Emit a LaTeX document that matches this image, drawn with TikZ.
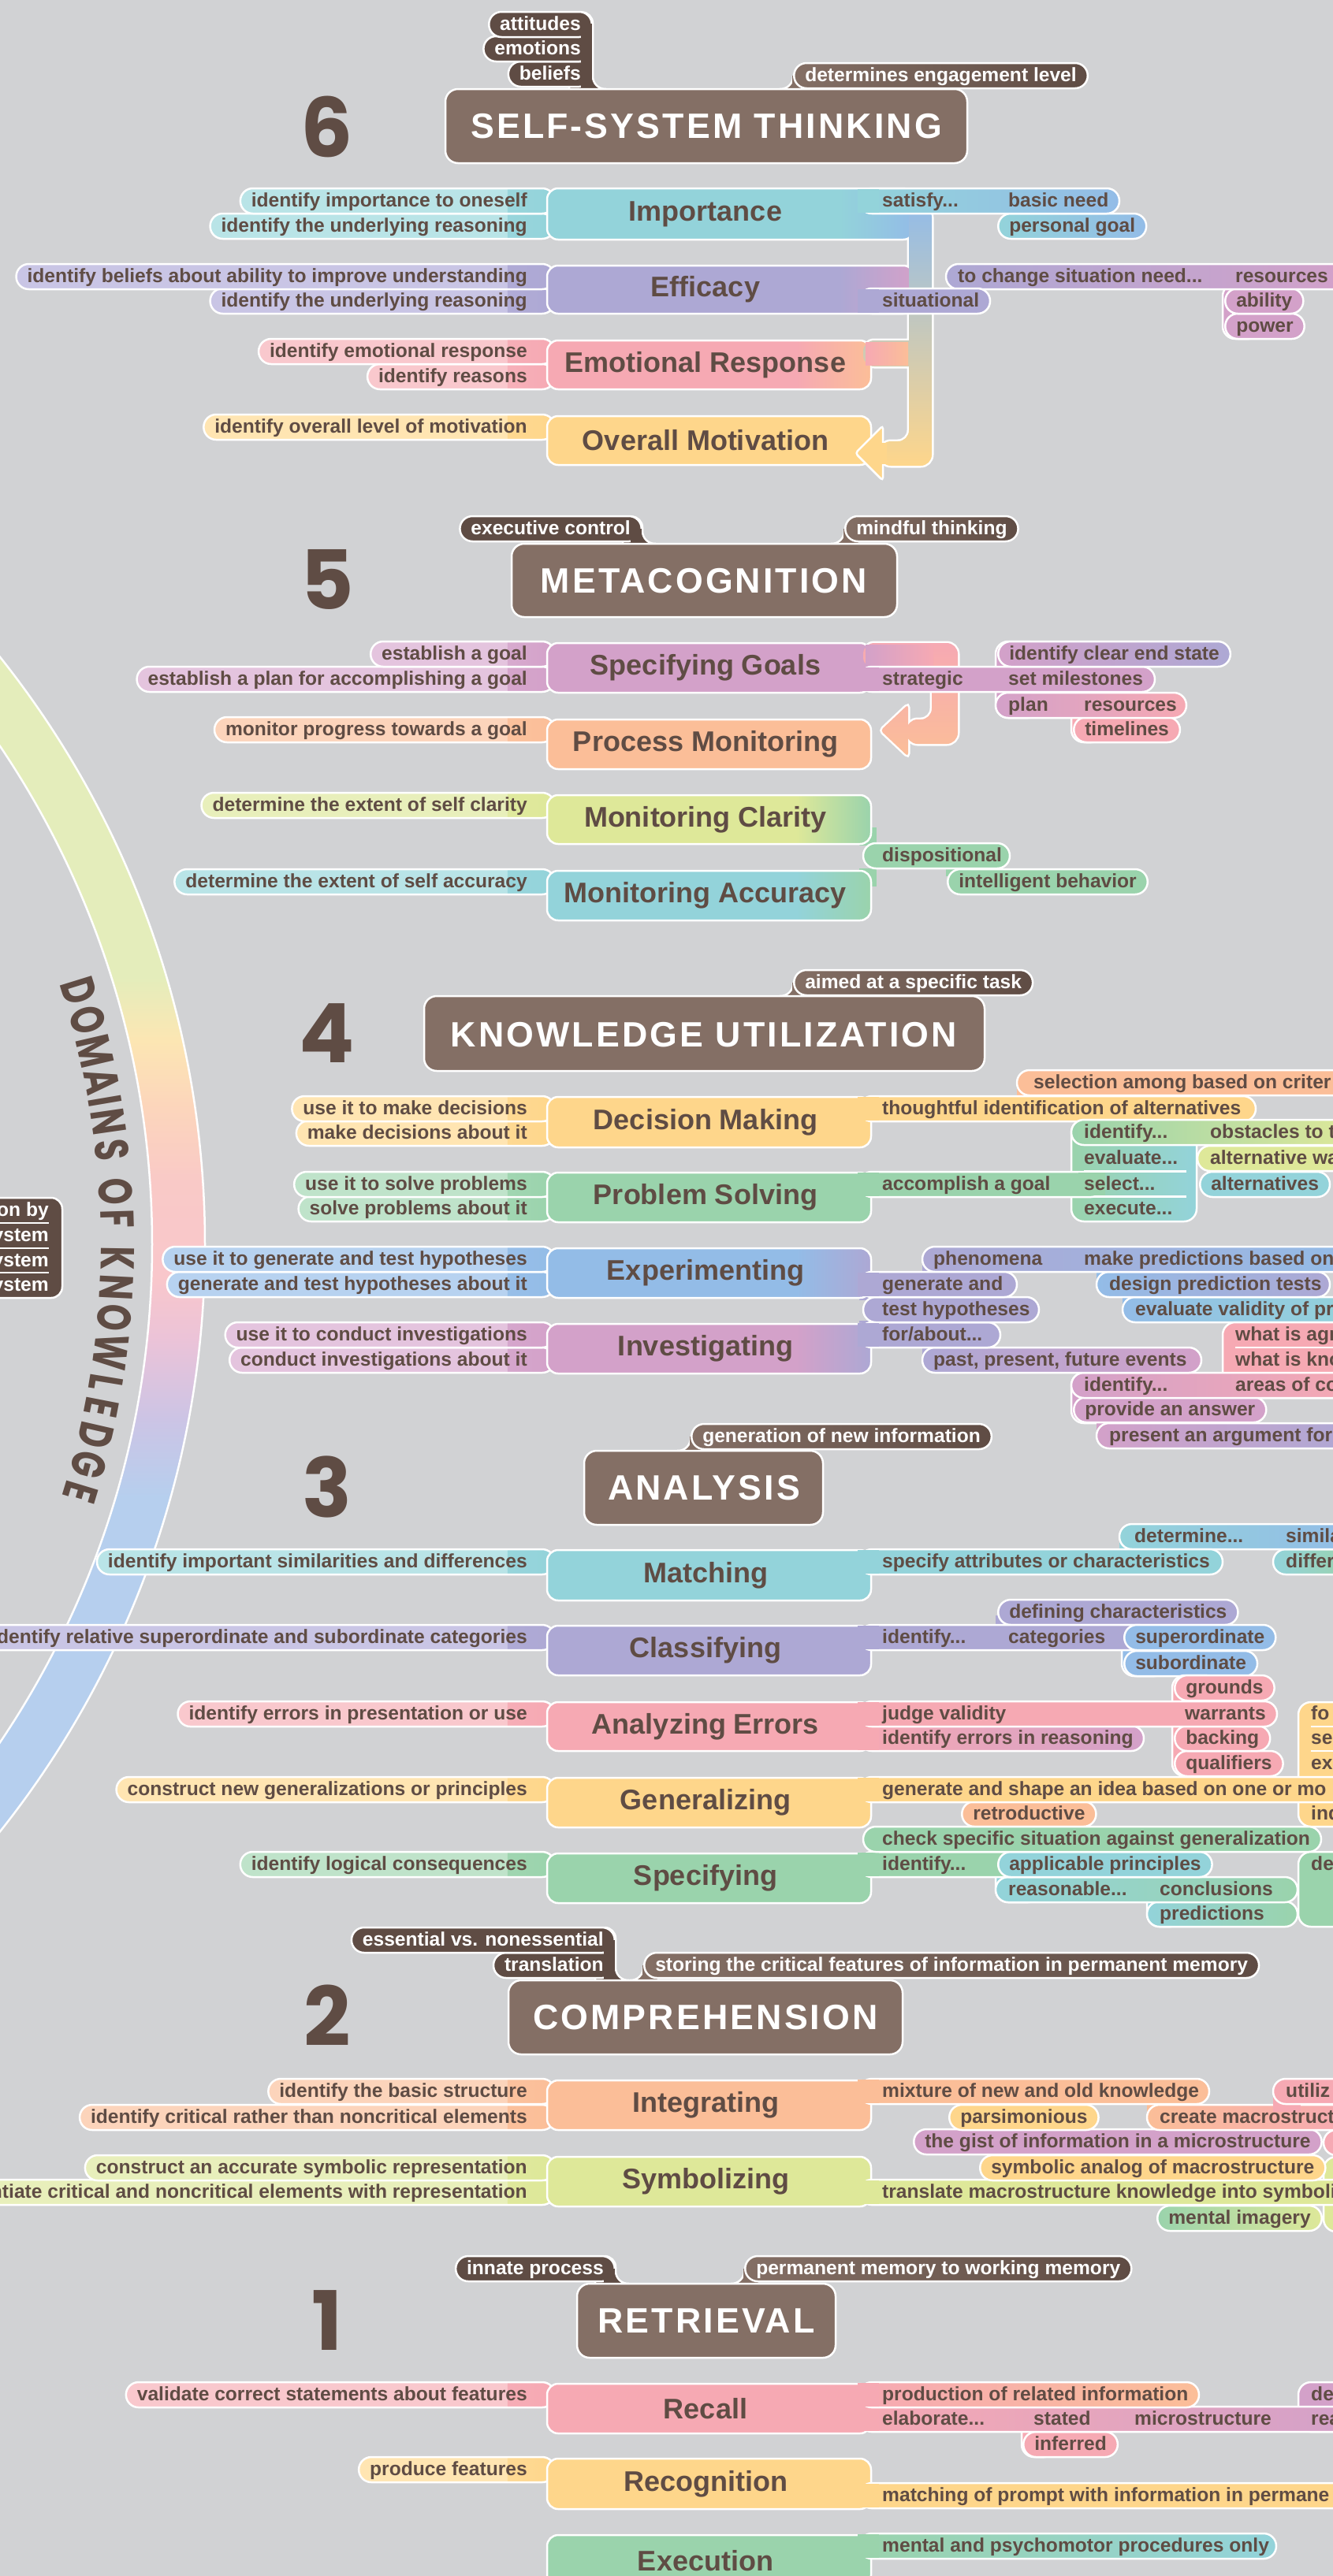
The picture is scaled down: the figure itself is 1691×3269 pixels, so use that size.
\documentclass[tikz,border=0pt]{standalone}
\usepackage{fontspec}
\usepackage{graphicx}
\setmainfont{Liberation Sans}
\newfontfamily\hdrfam{Liberation Sans}[LetterSpace=7]
\newfontfamily\popfam{Poppins}
\usetikzlibrary{shapes.misc}
\definecolor{bgc}{HTML}{D1D2D4}
\definecolor{hdr}{HTML}{846F65}
\definecolor{tag}{HTML}{5F4C44}
\definecolor{txt}{HTML}{5F4C44}
\definecolor{ccy}{HTML}{93D3DA}\definecolor{ccyL}{HTML}{B9E4E7}
\definecolor{cpu}{HTML}{ADA8D4}\definecolor{cpuL}{HTML}{C9C5E5}
\definecolor{cpk}{HTML}{F6A9B3}\definecolor{cpkL}{HTML}{F9C8CD}
\definecolor{cye}{HTML}{FED68B}\definecolor{cyeL}{HTML}{FFE5B2}
\definecolor{cor}{HTML}{D3A1C9}\definecolor{corL}{HTML}{E4C4DE}
\definecolor{cpe}{HTML}{FBBE98}\definecolor{cpeL}{HTML}{FCD4BB}
\definecolor{cli}{HTML}{DEE899}\definecolor{cliL}{HTML}{E8EFBB}
\definecolor{cgr}{HTML}{9AD3AC}\definecolor{cgrL}{HTML}{BFE3CA}
\definecolor{cbl}{HTML}{93BCE7}\definecolor{cblL}{HTML}{B7D2F0}
\definecolor{cpkpe}{HTML}{F2ADB3}
\definecolor{arca}{HTML}{E4EDBB}\definecolor{arcb}{HTML}{FCE6B3}
\definecolor{arcc}{HTML}{FCD6BB}\definecolor{arcd}{HTML}{F9C9C7}
\definecolor{arce}{HTML}{F9C7CB}\definecolor{arcf}{HTML}{EBC3D8}
\definecolor{arcg}{HTML}{CCC4E5}\definecolor{arch}{HTML}{B6CFEE}
\newcommand\lblfont{\bfseries\fontsize{24.6}{26}\selectfont}
\newcommand\ttlfont{\bfseries\fontsize{36}{38}\selectfont}
\newcommand\hdrfont{\hdrfam\bfseries\fontsize{44.7}{46}\selectfont}
\newcommand\digfont{\popfam\bfseries\fontsize{104}{106}\selectfont}
\newcommand\domfont{\popfam\bfseries\fontsize{60}{62}\selectfont}
\newcounter{nn}
\newcommand\nx{\stepcounter{nn}}
\tikzset{
 wb/.style={draw=white, line width=2.5pt},
 pill/.style={wb, rectangle, rounded corners=15.9pt, minimum height=32pt, inner xsep=14pt, inner ysep=0pt, text height=20pt, text depth=5pt, font=\lblfont, text=txt},
 lbl/.style={font=\lblfont, text=txt, inner sep=0pt, anchor=base west},
 mbox/.style={wb, rounded corners=14pt},
 ttl/.style={font=\ttlfont, text=txt},
 hbox/.style={wb, fill=hdr, rounded corners=16pt},
 htxt/.style={font=\hdrfont, text=white},
 dig/.style={font=\digfont, text=txt},
 tagp/.style={pill, fill=tag, text=white},
 tagr/.style={pill, left color=hdr, right color=tag, text=white, anchor=west},
}
\newcommand\zLP[4]{\nx\node[pill, fill=#2, anchor=east, path picture={\shade[draw=none, sharp corners, left color=#2, right color=#3] ([xshift=-60pt]path picture bounding box.south east) rectangle (path picture bounding box.north east);}] (n\arabic{nn}) at (705,#1) {#4\hspace*{21pt}};}
\newcommand\zRP[4]{\nx\node[pill, #3, anchor=west] (n\arabic{nn}) at ({#1-14},#2) {#4};}
\newcommand\zBD[4]{\draw[wb, rounded corners=15.9pt, #4] (#1,{#3-16}) rectangle (#2,{#3+16});}
\newcommand\zTX[3]{\nx\node[lbl] (n\arabic{nn}) at (#1,{#2+7.5}) {#3};}
\newcommand\zRB[5]{\zBD{1090}{#1}{#2}{#3}\fill[#4] (1088,{#2-14.7}) rectangle (1115,{#2+14.7});\zTX{1119}{#2}{#5}}
\newcommand\zMB[6]{\fill[#4, rounded corners=14pt] (694,#2) rectangle (#1,#3);
 \begin{scope}\clip[rounded corners=14pt] (694,#2) rectangle (#1,#3);
 \shade[draw=none, left color=#4, right color=#5] ({#1-95},#2) rectangle (#1,#3);\end{scope}
 \draw[mbox] (694,#2) rectangle (#1,#3);
 \nx\node[ttl] (n\arabic{nn}) at (895,{(#2+#3)/2}) {#6};}
\newcommand\zGB[5]{\draw[wb, rounded corners=15.9pt, #5] (#1,#3) rectangle (#2,#4);}
\newcommand\zfilR[3]{\begin{scope}\clip ({#1-1},{#2-17}) rectangle ({#1+17},{#2+1});
 \fill[#3] ({#1-1},{#2-17}) rectangle ({#1+17},{#2+1});
 \draw[wb, fill=bgc] ({#1+16},{#2-16}) circle[radius=16];\end{scope}}
\newcommand\zfilL[3]{\begin{scope}\clip ({#1-17},{#2-17}) rectangle ({#1+1},{#2+1});
 \fill[hdr] ({#1-17},{#2-17}) rectangle ({#1+1},{#2+1});
 \draw[wb, fill=bgc] ({#1-16},{#2-16}) circle[radius=16];\end{scope}
 \fill[hdr] ({#1-1},#3) rectangle ({#1+18},{#2+1});}
\begin{document}
\begin{tikzpicture}[x=1pt,y=-1pt]
\useasboundingbox (0,0) rectangle (1691,3269);
\clip (0,0) rectangle (1691,3269);
\fill[bgc] (0,0) rectangle (1691,3269);
% ---------- arc
\begin{scope}
\clip (-938,1579) circle[radius=1198];
\fill[arca] (-20,600) rectangle (320,1241);
\shade[top color=arca,bottom color=arcb] (-20,1240) rectangle (320,1321);
\shade[top color=arcb,bottom color=arcc] (-20,1320) rectangle (320,1401);
\shade[top color=arcc,bottom color=arcd] (-20,1400) rectangle (320,1501);
\shade[top color=arcd,bottom color=arce] (-20,1500) rectangle (320,1621);
\shade[top color=arce,bottom color=arcf] (-20,1620) rectangle (320,1701);
\shade[top color=arcf,bottom color=arcg] (-20,1700) rectangle (320,1801);
\shade[top color=arcg,bottom color=arch] (-20,1800) rectangle (320,1901);
\fill[arch] (-20,1900) rectangle (320,2600);
\end{scope}
\fill[bgc] (-938,1579) circle[radius=1131];
\draw[white, line width=2.5pt] (-938,1579) circle[radius=1198] (-938,1579) circle[radius=1131];
\foreach \ch/\th [count=\k] in {D/17.2,O/15.2,M/13.05,A/10.95,I/9.6,N/8.2,S/6.3,O/3.55,F/1.7,K/-0.95,N/-2.9,O/-4.9,W/-7.2,L/-9.3,E/-11.0,D/-12.9,G/-14.9,E/-16.85}{
 \node[font=\domfont, text=txt, rotate=\th-90, inner sep=0pt] (dk\k) at ({-938+1087*cos(\th)},{1579-1087*sin(\th)}) {\scalebox{0.72}[1]{\ch}};
}
% left box
\draw[wb, fill=tag, rounded corners=14pt] (-30,1520) rectangle (79,1647);
\draw[white, line width=2.5pt] (-30,1552) -- (62,1552) (-30,1584) -- (62,1584) (-30,1615) -- (62,1615);
\node[font=\lblfont, text=white, anchor=base east, inner sep=0pt] (lb1) at (62,1543.5) {on by};
\node[font=\lblfont, text=white, anchor=base east, inner sep=0pt] (lb2) at (62,1575.5) {ystem};
\node[font=\lblfont, text=white, anchor=base east, inner sep=0pt] (lb3) at (62,1607.5) {ystem};
\node[font=\lblfont, text=white, anchor=base east, inner sep=0pt] (lb4) at (62,1638.5) {ystem};
% ================= 6
\node[dig] (d6) at (415,161) {6};
\draw[wb, fill=tag, rounded corners=14pt] (722,15.5) rectangle (752,128);
\zfilR{752}{113}{tag}
\nx\node[tagp, anchor=east] (n\arabic{nn}) at (752,94) {beliefs};
\nx\node[tagp, anchor=east] (n\arabic{nn}) at (752,62) {emotions};
\nx\node[tagp, anchor=east] (n\arabic{nn}) at (752,31) {attitudes};
\fill[tag] (737,30) rectangle (750.7,126);
\zfilL{1006}{113}{96}
\nx\node[tagr] (n\arabic{nn}) at (1006,96) {determines engagement level};
\draw[hbox] (565,113) rectangle (1227,207);
\node[htxt] (h6) at (896,160) {SELF-SYSTEM THINKING};
\zLP{287}{ccyL}{ccy}{identify the underlying reasoning}
\zLP{255}{ccyL}{ccy}{identify importance to oneself}
\zLP{382}{cpuL}{cpu}{identify the underlying reasoning}
\zLP{351}{cpuL}{cpu}{identify beliefs about ability to improve understanding}
\zLP{478}{cpkL}{cpk}{identify reasons}
\zLP{446}{cpkL}{cpk}{identify emotional response}
\zLP{542}{cyeL}{cye}{identify overall level of motivation}
\def\zconA{[rounded corners=14pt] (1153,262) -- (1182,262) -- (1182,591) -- (1116,591) -- (1116,560) -- (1153,560) -- cycle (1095,432) -- (1182,432) -- (1182,465) -- (1095,465) -- cycle}
\draw[white, line width=5pt] \zconA;
\zMB{1160}{239}{304}{ccy}{cbl}{Importance}
\zMB{1160}{337}{398}{cpu}{cor}{Efficacy}
\zMB{1105}{432}{494}{cpk}{cpe}{Emotional Response}
\zMB{1105}{528}{590}{cye}{cye}{Overall Motivation}
\shade[top color=cbl, middle color=cpkpe, bottom color=cye] \zconA;
\shade[left color=cpk, right color=cpe] (1098,434) rectangle (1152,463.5);
\draw[wb, fill=cye, rounded corners=4pt] (1085,575) -- (1120,540) -- (1120,610) -- cycle;
\fill[cye] (1112,562) rectangle (1125,589);
\zRP{1279}{287}{left color=ccy, right color=cbl}{personal goal}
\zRB{1420}{255}{left color=ccy, right color=cbl}{ccy}{satisfy...}
\zTX{1279}{255}{basic need}
\zGB{1551}{1600}{360}{430}{fill=cor}
\zRP{1567}{414}{fill=cor}{power}
\zRP{1567}{382}{fill=cor}{ability}
\zBD{1200}{1720}{351}{left color=cpu, right color=cor}
\zTX{1215}{351}{to change situation need...}
\zTX{1567}{351}{resources}
\zRB{1256}{382}{fill=cpu}{cpu}{situational}
% ================= 5
\node[dig] (d5) at (415,735) {5};
\draw[wb, fill=tag, rounded corners=14pt] (790,655.5) rectangle (815,705);
\zfilR{815}{690}{tag}
\nx\node[tagp, anchor=east] (n\arabic{nn}) at (815,671) {executive control};
\fill[tag] (800,671) rectangle (813.7,703);
\zfilL{1071}{690}{671}
\nx\node[tagr] (n\arabic{nn}) at (1071,671) {mindful thinking};
\draw[hbox] (649,690) rectangle (1138,783);
\node[htxt] (h5) at (893,737) {METACOGNITION};
\zLP{862}{corL}{cor}{establish a plan for accomplishing a goal}
\zLP{830}{corL}{cor}{establish a goal}
\zLP{926}{cpeL}{cpe}{monitor progress towards a goal}
\zLP{1022}{cliL}{cli}{determine the extent of self clarity}
\zLP{1119}{ccyL}{ccy}{determine the extent of self accuracy}
\def\zconB{[rounded corners=14pt] (1095,816) -- (1215,816) -- (1215,944) -- (1150,944) -- (1150,913) -- (1182,913) -- (1182,848) -- (1095,848) -- cycle [rounded corners=4pt] (1117,927) -- (1152,894) -- (1152,960) -- cycle}
\draw[white, line width=5pt] \zconB;
\fill[cgr] (1090,1050) rectangle (1112,1073);
\fill[cgr] (1090,1102) rectangle (1112,1125);
\zMB{1105}{816}{879}{cor}{cor}{Specifying Goals}
\zMB{1105}{913}{976}{cpe}{cpe}{Process Monitoring}
\zMB{1105}{1009}{1071}{cli}{cgr}{Monitoring Clarity}
\zMB{1105}{1105}{1168}{ccy}{cgr}{Monitoring Accuracy}
\shade[top color=cpk, bottom color=cpe] \zconB;
\shade[left color=cor, right color=cpk] (1098,818) rectangle (1184,846.5);
\zGB{1263}{1320}{814}{911}{fill=cor}
\zGB{1359}{1400}{890}{942}{fill=cpk}
\zRP{1375}{926}{fill=cpk}{timelines}
\zBD{1263}{1505}{895}{left color=cor, right color=cpk}
\zTX{1279}{895}{plan}
\zTX{1375}{895}{resources}
\zRB{1465}{862}{fill=cor}{cor}{strategic}
\zTX{1279}{862}{set milestones}
\zRP{1279}{830}{left color=cor, right color=cpu}{identify clear end state}
\fill[cgr] (1200,1090) rectangle (1240,1112);
\zRP{1215}{1119}{fill=cgr}{intelligent behavior}
\zBD{1095}{1281}{1086}{fill=cgr}
\zTX{1119}{1086}{dispositional}
% ================= 4
\node[dig] (d4) at (415,1311) {4};
\zfilL{1006}{1264}{1247}
\nx\node[tagr] (n\arabic{nn}) at (1006,1247) {aimed at a specific task};
\draw[hbox] (538,1264) rectangle (1249,1359);
\node[htxt] (h4) at (893,1313) {KNOWLEDGE UTILIZATION};
\zLP{1438}{cyeL}{cye}{make decisions about it}
\zLP{1407}{cyeL}{cye}{use it to make decisions}
\zLP{1534}{cgrL}{cgr}{solve problems about it}
\zLP{1503}{cgrL}{cgr}{use it to solve problems}
\zLP{1630}{cblL}{cbl}{generate and test hypotheses about it}
\zLP{1598}{cblL}{cbl}{use it to generate and test hypotheses}
\zLP{1726}{corL}{cor}{conduct investigations about it}
\zLP{1694}{corL}{cor}{use it to conduct investigations}
\fill[cpu] (1090,1628) rectangle (1112,1650);
\fill[cpu] (1090,1676) rectangle (1112,1698);
\zMB{1105}{1392}{1456}{cye}{cye}{Decision Making}
\zMB{1105}{1488}{1551}{cgr}{cgr}{Problem Solving}
\zMB{1105}{1584}{1647}{cbl}{cpu}{Experimenting}
\zMB{1105}{1680}{1743}{cor}{cpu}{Investigating}
\fill[cpe] (1290,1380) rectangle (1330,1400);
\zBD{1290}{1720}{1374}{fill=cpe}
\zTX{1311}{1374}{selection among based on criter}
\zRB{1593}{1407}{fill=cye}{cye}{thoughtful identification of alternatives}
\zGB{1359}{1518}{1421}{1550}{left color=cgr, right color=ccy}
\zRP{1535}{1503}{fill=ccy}{alternatives}
\zBD{1519}{1720}{1470}{fill=cli}
\zBD{1359}{1720}{1437}{left color=cgr, right color=cli}
\draw[white, line width=2.5pt] (1375,1486.5) -- (1505,1486.5) (1375,1518.5) -- (1505,1518.5);
\zRB{1400}{1503}{fill=cgr}{cgr}{accomplish a goal}
\fill[cgr] (1368,1488.3) rectangle (1402,1517.2);
\zTX{1375}{1437}{identify...}
\zTX{1375}{1470}{evaluate...}
\zTX{1375}{1503}{select...}
\zTX{1375}{1534}{execute...}
\zTX{1535}{1437}{obstacles to t}
\zTX{1535}{1470}{alternative wa}
\fill[cbl] (1424,1640) rectangle (1470,1660);
\zBD{1424}{1720}{1662}{left color=cbl, right color=ccy}
\fill[cbl] (1391,1606) rectangle (1440,1628);
\zBD{1391}{1687}{1630}{left color=cbl, right color=cpu}
\fill[cpu] (1170,1605) rectangle (1215,1628);
\zBD{1170}{1720}{1598}{left color=cpu, right color=cbl}
\zTX{1184}{1598}{phenomena}
\zTX{1375}{1598}{make predictions based on}
\zTX{1407}{1630}{design prediction tests}
\zTX{1440}{1662}{evaluate validity of pr}
\zGB{1551}{1720}{1678}{1774}{fill=cpk}
\draw[white, line width=2.5pt] (1567,1710) -- (1720,1710);
\zGB{1359}{1420}{1742}{1806}{fill=cor}
\fill[cor] (1391,1795) rectangle (1430,1815);
\zBD{1391}{1720}{1822}{left color=cor, right color=cpu}
\zRP{1375}{1789}{fill=cor}{provide an answer}
\zBD{1359}{1720}{1758}{left color=cor, right color=cpk}
\fill[cpu] (1170,1700) rectangle (1215,1722);
\zBD{1170}{1524}{1726}{left color=cpu, right color=cor}
\zBD{1090}{1269}{1694}{fill=cpu}
\zBD{1095}{1318}{1662}{fill=cpu}
\zBD{1090}{1290}{1630}{fill=cpu}
\fill[cpu] (1088,1615.3) rectangle (1115,1644.7);
\fill[cpu] (1088,1679.3) rectangle (1115,1708.7);
\zTX{1119}{1630}{generate and}
\zTX{1119}{1662}{test hypotheses}
\zTX{1119}{1694}{for/about...}
\zTX{1184}{1726}{past, present, future events}
\zTX{1375}{1758}{identify...}
\zTX{1407}{1822}{present an argument for}
\zTX{1567}{1694}{what is agr}
\zTX{1567}{1726}{what is kno}
\zTX{1567}{1758}{areas of co}
% ================= 3
\node[dig] (d3) at (415,1887) {3};
\zfilL{876}{1841}{1823}
\nx\node[tagr] (n\arabic{nn}) at (876,1823) {generation of new information};
\draw[hbox] (741,1841) rectangle (1044,1935);
\node[htxt] (h3) at (893,1888) {ANALYSIS};
\zLP{1982}{ccyL}{ccy}{identify important similarities and differences}
\zLP{2078}{cpuL}{cpu}{identify relative superordinate and subordinate categories}
\zLP{2175}{cpkL}{cpk}{identify errors in presentation or use}
\zLP{2271}{cyeL}{cye}{construct new generalizations or principles}
\zLP{2366}{cgrL}{cgr}{identify logical consequences}
\zMB{1105}{1967}{2031}{ccy}{ccy}{Matching}
\zMB{1105}{2063}{2126}{cpu}{cpu}{Classifying}
\zMB{1105}{2160}{2222}{cpk}{cpk}{Analyzing Errors}
\zMB{1105}{2256}{2319}{cye}{cye}{Generalizing}
\zMB{1105}{2352}{2415}{cgr}{cgr}{Specifying}
\fill[ccy] (1420,1955) rectangle (1460,1975);
\zBD{1615}{1720}{1982}{left color=ccy, right color=cgr}
\zBD{1420}{1720}{1950}{left color=ccy, right color=cbl}
\zRB{1551}{1982}{fill=ccy}{ccy}{specify attributes or characteristics}
\zTX{1439}{1950}{determine...}
\zTX{1631}{1950}{simila}
\zTX{1631}{1982}{differ}
\zGB{1423}{1480}{2062}{2127}{fill=cbl}
\zRP{1439}{2111}{fill=cbl}{subordinate}
\fill[cpu] (1263,2050) rectangle (1300,2072);
\zRP{1279}{2046}{fill=cpu}{defining characteristics}
\zRB{1460}{2078}{fill=cpu}{cpu}{identify...}
\zTX{1279}{2078}{categories}
\zRP{1439}{2078}{fill=cbl}{superordinate}
\zGB{1647}{1720}{2160}{2318}{fill=cye}
\draw[white, line width=2.5pt] (1663,2191) -- (1720,2191) (1663,2222) -- (1720,2222);
\zGB{1487}{1545}{2126}{2254}{fill=cpk}
\zRP{1503}{2238}{fill=cpk}{qualifiers}
\zRP{1503}{2206}{fill=cpk}{backing}
\zRB{1451}{2206}{left color=cpk, right color=cor}{cpk}{identify errors in reasoning}
\zRB{1620}{2175}{fill=cpk}{cpk}{judge validity}
\zTX{1503}{2175}{warrants}
\zRP{1503}{2142}{fill=cpk}{grounds}
\zTX{1663}{2175}{fo}
\zTX{1663}{2206}{se}
\zTX{1663}{2238}{exp}
\zRP{1233}{2302}{fill=cpe}{retroductive}
\zRB{1720}{2271}{fill=cye}{cye}{generate and shape an idea based on one or mo}
\zTX{1663}{2302}{ind}
\zGB{1647}{1720}{2350}{2445}{fill=cgr}
\zGB{1455}{1500}{2382}{2445}{fill=ccy}
\zBD{1455}{1646}{2429}{left color=ccy, right color=cgr}
\zGB{1263}{1320}{2350}{2414}{fill=ccy}
\zBD{1263}{1646}{2398}{left color=ccy, right color=cgr}
\zRB{1300}{2366}{fill=cgr}{cgr}{identify...}
\zRP{1279}{2366}{fill=ccy}{applicable principles}
\zBD{1095}{1676}{2334}{fill=cgr}
\zTX{1119}{2334}{check specific situation against generalization}
\zTX{1279}{2398}{reasonable...}
\zTX{1471}{2398}{conclusions}
\zTX{1471}{2429}{predictions}
\zTX{1663}{2366}{de}
% ================= 2
\node[dig] (d2) at (415,2558) {2};
\draw[wb, fill=tag, rounded corners=14pt] (755,2446) rectangle (781,2530);
\zfilR{781}{2513}{tag}
\nx\node[tagp, anchor=east] (n\arabic{nn}) at (781,2494) {translation};
\nx\node[tagp, anchor=east] (n\arabic{nn}) at (781,2462) {essential vs. nonessential};
\fill[tag] (766,2462) rectangle (779.7,2528);
\zfilL{816}{2513}{2494}
\nx\node[tagr] (n\arabic{nn}) at (816,2494) {storing the critical features of information in permanent memory};
\draw[hbox] (645,2513) rectangle (1145,2607);
\node[htxt] (h2) at (895,2560) {COMPREHENSION};
\zLP{2687}{cpeL}{cpe}{identify critical rather than noncritical elements}
\zLP{2654}{cpeL}{cpe}{identify the basic structure}
\zLP{2782}{cliL}{cli}{differentiate critical and noncritical elements with representation}
\zLP{2751}{cliL}{cli}{construct an accurate symbolic representation}
\zMB{1105}{2640}{2703}{cpe}{cpe}{Integrating}
\zMB{1105}{2737}{2800}{cli}{cli}{Symbolizing}
\zGB{1679}{1740}{2703}{2735}{fill=cpk}
\zGB{1679}{1740}{2737}{2832}{fill=cli}
\zRP{1172}{2718}{fill=cor}{the gist of information in a microstructure}
\fill[cpe] (1455,2660) rectangle (1495,2680);
\zBD{1455}{1720}{2687}{left color=cpe, right color=cpk}
\fill[cpk] (1615,2660) rectangle (1650,2680);
\zBD{1615}{1720}{2654}{fill=cpk}
\zRP{1217}{2687}{fill=cye}{parsimonious}
\zRB{1534}{2654}{fill=cpe}{cpe}{mixture of new and old knowledge}
\zTX{1471}{2687}{create macrostruct}
\zTX{1631}{2654}{utiliz}
\zRP{1481}{2815}{left color=cgr, right color=cli}{mental imagery}
\zRB{1720}{2782}{fill=cli}{cli}{translate macrostructure knowledge into symboli}
\zRP{1256}{2751}{fill=cye}{symbolic analog of macrostructure}
% ================= 1
\node[dig] (d1) at (415,2945) {1};
\draw[wb, fill=tag, rounded corners=14pt] (755,2863) rectangle (781,2915);
\zfilR{781}{2898}{tag}
\nx\node[tagp, anchor=east] (n\arabic{nn}) at (781,2879) {innate process};
\fill[tag] (766,2879) rectangle (779.7,2913);
\zfilL{944}{2898}{2879}
\nx\node[tagr] (n\arabic{nn}) at (944,2879) {permanent memory to working memory};
\draw[hbox] (732,2898) rectangle (1060,2992);
\node[htxt] (h1) at (896,2945) {RETRIEVAL};
\zLP{3039}{cpkL}{cpk}{validate correct statements about features}
\zLP{3134}{cyeL}{cye}{produce features}
\zMB{1105}{3025}{3088}{cpk}{cpk}{Recall}
\zMB{1105}{3120}{3184}{cye}{cye}{Recognition}
\zMB{1105}{3217}{3282}{cgr}{cgr}{Execution}
\zGB{1647}{1720}{3023}{3086}{fill=cor}
\zGB{1296}{1340}{3054}{3118}{fill=cpk}
\zRP{1311}{3102}{fill=cpk}{inferred}
\zRB{1720}{3070}{left color=cpk, right color=cor}{cpk}{elaborate...}
\zRB{1521}{3039}{left color=cpk, right color=cpe}{cpk}{production of related information}
\zTX{1311}{3070}{stated}
\zTX{1439}{3070}{microstructure}
\zTX{1663}{3039}{de}
\zTX{1663}{3070}{rea}
\zRB{1720}{3167}{fill=cye}{cye}{matching of prompt with information in permane}
\zRB{1619}{3231}{left color=cgr, right color=ccy}{cgr}{mental and psychomotor procedures only}
\end{tikzpicture}
\end{document}
